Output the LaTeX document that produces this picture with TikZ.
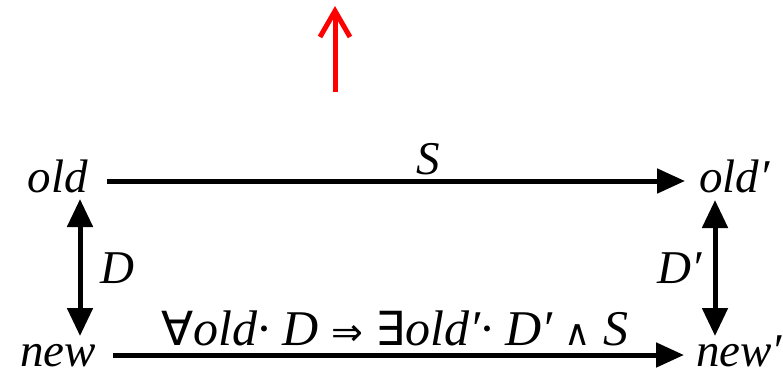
\documentclass[tikz,border=0pt]{standalone}
\usepackage{fontspec}
\setmainfont{Liberation Serif}
\newfontfamily\symf{DejaVu Sans}
\usetikzlibrary{arrows.meta}
\begin{document}
\begin{tikzpicture}[x=1pt,y=-1pt,
  lbl/.style={font=\fontsize{47}{52}\selectfont\itshape, inner sep=0pt},
  conn/.style={line width=5pt, -{Triangle[length=28pt,width=24pt]}},
  dconn/.style={line width=5pt, {Triangle[length=28pt,width=25pt]}-{Triangle[length=28pt,width=25pt]}},
  redarrow/.style={red, line width=5pt, -{Straight Barb[length=26pt,width=30pt,line width=5pt]}}]
\useasboundingbox (0,0) rectangle (783,369);
% red arrow
\coordinate (r0) at (335,92);
\coordinate (r1) at (335,6);
\draw[redarrow] (r0) -- (r1);
% nodes
\node[lbl, anchor=base east] (nOld) at (88,192) {old};
\node[lbl, anchor=base west] (nOldP) at (699,192) {old′};
\node[lbl, anchor=base east] (nNew) at (96,366) {new};
\node[lbl, anchor=base west] (nNewP) at (696,366) {new′};
% horizontal arrows
\draw[conn] ([shift={(19,-11)}]nOld.base east) -- ([shift={(-14,-11)}]nOldP.base west);
\draw[conn] ([shift={(17,-11)}]nNew.base east) -- ([shift={(-12,-11)}]nNewP.base west);
\node[lbl, anchor=base] (nS) at (428,174) {S};
\node[lbl, font=\fontsize{50}{54}\selectfont\itshape, anchor=base] (nLaw) at (395,345) {{\upshape\symf\fontsize{47}{50}\selectfont ∀}old· D {\upshape\symf\fontsize{38}{50}\selectfont ⇒} {\upshape\symf\fontsize{47}{50}\selectfont ∃}old′· D′ {\upshape\symf\fontsize{36}{50}\selectfont ∧} S};
% vertical arrows
\coordinate (l0) at (80,199);
\coordinate (l1) at (80,336);
\coordinate (r2) at (715,200);
\coordinate (r3) at (715,336);
\draw[dconn] (l0) -- (l1);
\draw[dconn] (r2) -- (r3);
\node[lbl] (nD) at (117,268) {D};
\node[lbl] (nDp) at (680,268) {D′};
\end{tikzpicture}
\end{document}
